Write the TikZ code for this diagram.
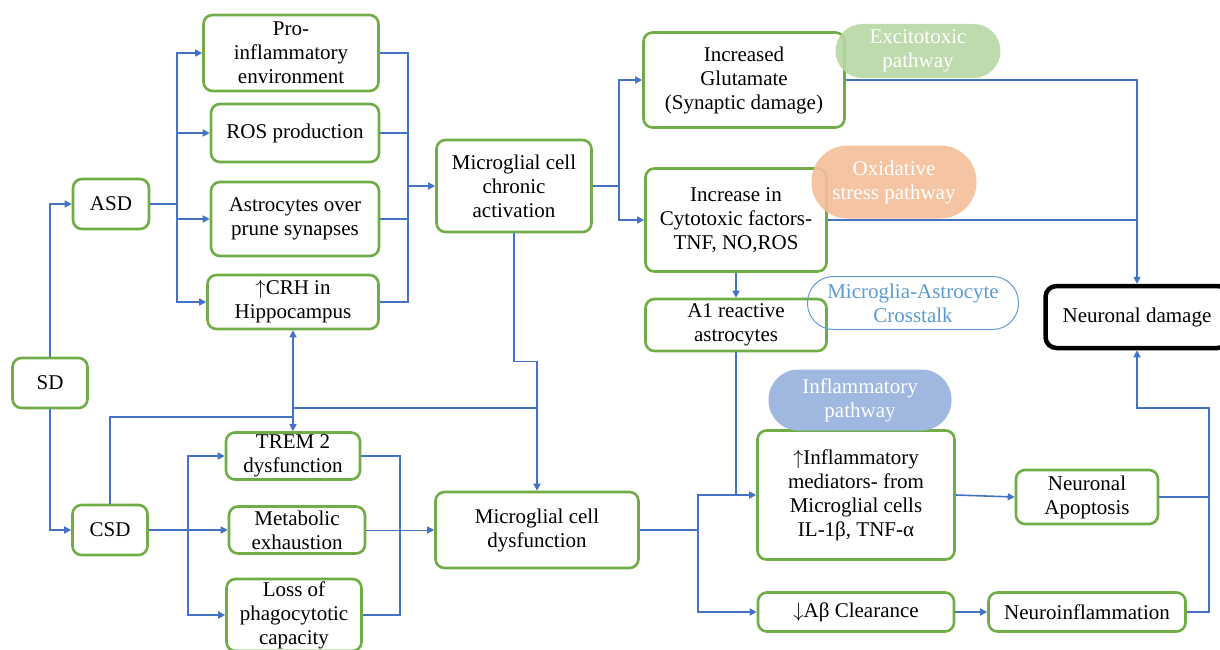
\documentclass[tikz,border=0pt]{standalone}
\usepackage{fontspec}
\setmainfont{Liberation Serif}
\usepackage{tikz}
\usetikzlibrary{arrows.meta, shapes}
\definecolor{boxgreen}{RGB}{112, 173, 71}
\definecolor{lineblue}{RGB}{68, 114, 196}
\definecolor{excitgreen}{RGB}{183, 215, 164}
\definecolor{oxiorange}{RGB}{244, 190, 152}
\definecolor{crossblue}{RGB}{91, 155, 213}
\definecolor{inflblue}{RGB}{160, 184, 224}

\begin{document}
\begin{tikzpicture}[x=1pt, y=-1pt,
        box/.style={draw=boxgreen, line width=2.6pt, rounded corners=9pt, fill=white,
            align=center, inner sep=1pt, font=\fontsize{21}{24}\selectfont},
        pill/.style={line width=1pt, align=center, inner sep=1pt,
            font=\fontsize{21}{24}\selectfont},
        conn/.style={draw=lineblue, line width=1.6pt},
        arr/.style={conn, -{Triangle[length=7pt, width=7pt]}}]
        \useasboundingbox (0,0) rectangle (1220,650);

        % sleep deprivation
        \node[box, minimum width=75, minimum height=50] (sd) at (50,383) {SD};
        \node[box, minimum width=76, minimum height=50] (asd) at (111,204) {ASD};
        \node[box, minimum width=75, minimum height=50] (csd) at (110,530) {CSD};

        % acute branch
        \node[box, minimum width=175, minimum height=76] (pro) at (291,53) {Pro-\\inflammatory\\environment};
        \node[box, minimum width=168, minimum height=58] (ros) at (295,133) {ROS production};
        \node[box, minimum width=168, minimum height=74] (astro) at (295,219) {Astrocytes over\\prune synapses};
        \node[box, minimum width=171, minimum height=54] (crh) at (293,302) {$\uparrow$CRH in\\Hippocampus};
        \node[box, minimum width=155, minimum height=92] (chronic) at (514,186) {Microglial cell\\chronic\\activation};

        % chronic branch
        \node[box, minimum width=134, minimum height=47] (trem) at (293,456) {TREM 2\\dysfunction};
        \node[box, minimum width=136, minimum height=47] (metab) at (297,530) {Metabolic\\exhaustion};
        \node[box, minimum width=135, minimum height=72] (loss) at (294,615) {Loss of\\phagocytotic\\capacity};
        \node[box, minimum width=203, minimum height=76] (dysf) at (537,530) {Microglial cell\\dysfunction};

        % pathways
        \node[box, minimum width=201, minimum height=95] (glut) at (744,80) {Increased\\Glutamate\\(Synaptic damage)};
        \node[box, minimum width=181, minimum height=103] (cyto) at (736,220) {Increase in\\Cytotoxic factors-\\TNF, NO,ROS};
        \node[box, minimum width=181, minimum height=52] (aone) at (736,325) {A1 reactive\\astrocytes};
        \node[box, minimum width=197, minimum height=129] (mediat) at (856,495) {$\uparrow$Inflammatory\\mediators- from\\Microglial cells\\IL-1β, TNF-α};
        \node[box, minimum width=196, minimum height=39] (abeta) at (856,612) {$\downarrow$Aβ Clearance};
        \node[box, minimum width=142, minimum height=54] (apop) at (1087,497) {Neuronal\\Apoptosis};
        \node[box, minimum width=197, minimum height=39] (neuroinf) at (1087,612) {Neuroinflammation};
        \node[box, draw=black, line width=4.5pt, rounded corners=11pt, minimum width=183, minimum height=62] (damage) at (1137,317) {Neuronal damage};

        % pathway labels
        \node[pill, fill=excitgreen, fill opacity=0.9, text opacity=1, text=white, rounded corners=27pt, minimum width=165, minimum height=54] (excit) at (918,51) {Excitotoxic\\pathway};
        \node[pill, fill=oxiorange, fill opacity=0.9, text opacity=1, text=white, rounded corners=36pt, minimum width=165, minimum height=73] (oxi) at (894,182) {Oxidative\\stress pathway};
        \node[pill, draw=crossblue, text=crossblue, rounded corners=26pt, minimum width=211, minimum height=53] (cross) at (913,303) {Microglia-Astrocyte\\Crosstalk};
        \node[pill, fill=inflblue, text=white, rounded corners=30pt, minimum width=183, minimum height=61] (infl) at (860,400) {Inflammatory\\pathway};

        % SD split
        \draw[arr] (sd.north) |- (asd.west);
        \draw[arr] (sd.south) |- (csd.west);

        % ASD fan
        \coordinate (asdbus) at (177,204);
        \draw[conn] (asd.east) -- (asdbus);
        \foreach \n in {pro, ros, astro, crh}
            \draw[arr] (asdbus) |- (\n.west);
        \coordinate (actbus) at (408,186);
        \foreach \n in {pro, ros, astro, crh}
            \draw[conn] (\n.east) -| (actbus);
        \draw[arr] (actbus) -- (chronic.west);

        % chronic activation outputs
        \coordinate (chrbus) at (619,186);
        \draw[conn] (chronic.east) -- (chrbus);
        \draw[arr] (chrbus) |- (glut.west);
        \draw[arr] (chrbus) |- (cyto.west);
        \draw[arr] (chronic.south) -- ++(0,128) -| (dysf.north);

        % CSD links
        \coordinate (csdtie) at (293,417);
        \coordinate (dystie) at (537,408);
        \draw[conn] (csd.north) |- (csdtie);
        \draw[arr] (csdtie) -- (crh.south);
        \draw[arr] (csdtie) -- (trem.north);
        \draw[conn] (csdtie |- dystie) -- (dystie);

        % CSD fan
        \coordinate (csdbus) at (188,530);
        \draw[conn] (csd.east) -- (csdbus);
        \draw[arr] (csdbus) |- (trem.west);
        \draw[arr] (csdbus) -- (metab.west);
        \draw[arr] (csdbus) |- (loss.west);
        \coordinate (dysbus) at (400,530);
        \draw[conn] (trem.east) -| (dysbus);
        \draw[conn] (loss.east) -| (dysbus);
        \draw[arr, line width=1pt] (metab.east) -- (dysf.west);

        % dysfunction outputs
        \coordinate (outbus) at (698,530);
        \draw[conn] (dysf.east) -- (outbus);
        \draw[arr] (outbus) |- (mediat.west);
        \draw[arr] (outbus) |- (abeta.west);
        \draw[arr] (cyto.south) -- (aone.north);
        \draw[conn] (aone.south) -- (aone.south |- mediat.west);

        % towards neuronal damage
        \draw[arr] (glut.east) -| (damage.north);
        \draw[conn] (cyto.east) -- (cyto.east -| damage.north);
        \draw[arr] (mediat.east) -- (apop.west);
        \draw[arr] (abeta.east) -- (neuroinf.west);
        \coordinate (dmgbus) at (1209,408);
        \draw[arr] (neuroinf.east) -| (dmgbus) -| (damage.south);
        \draw[conn] (apop.east) -- (apop.east -| dmgbus);
    \end{tikzpicture}
\end{document}
